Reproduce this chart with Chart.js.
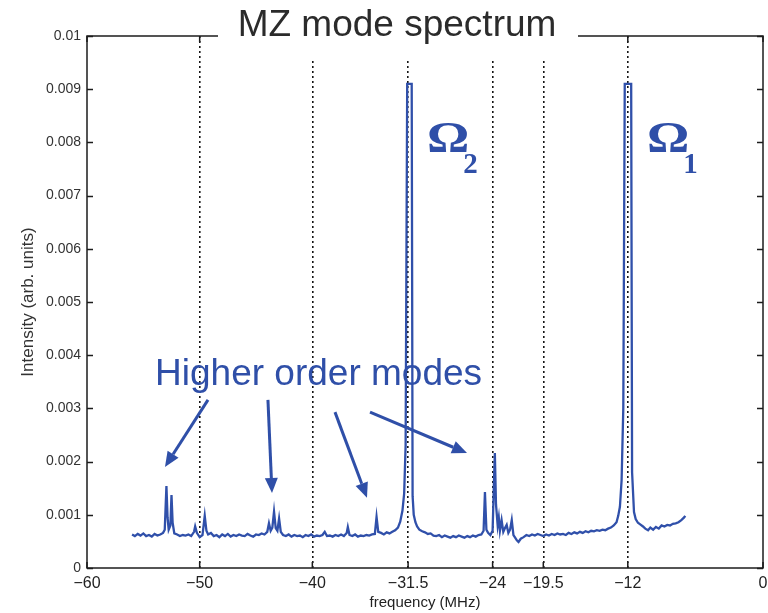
<!DOCTYPE html>
<html><head><meta charset="utf-8">
<script src="https://cdn.jsdelivr.net/npm/chart.js@4"></script>
<style>html,body{margin:0;padding:0;background:#fff}canvas{display:block}</style>
</head><body>
<canvas id="c" width="768" height="613"></canvas>
<script>
const chartTitle = 'MZ mode spectrum';
const xAxisTitle = 'frequency (MHz)';
const yAxisTitle = 'Intensity (arb. units)';
const xTickValues = [-60, -50, -40, -31.5, -24, -19.5, -12, 0];
const xTickLabels = ['\u221260', '\u221250', '\u221240', '\u221231.5', '\u221224', '\u221219.5', '\u221212', '0'];
const yTickLabels = ['0', '0.001', '0.002', '0.003', '0.004', '0.005', '0.006', '0.007', '0.008', '0.009', '0.01'];

const frequency = [
  -56.0, -55.75, -55.5, -55.25, -55.0, -54.75, -54.5, -54.25, -54.0, -53.75, -53.5, -53.25,
  -53.1, -52.95, -52.85, -52.75, -52.6, -52.5, -52.4, -52.25, -52.0, -51.75, -51.5, -51.25,
  -51.0, -50.75, -50.5, -50.4, -50.25, -50.0, -49.75, -49.55, -49.4, -49.25, -49.0, -48.75,
  -48.5, -48.25, -48.0, -47.75, -47.5, -47.25, -47.0, -46.75, -46.5, -46.25, -46.0, -45.75,
  -45.5, -45.25, -45.0, -44.75, -44.5, -44.25, -44.0, -43.85, -43.7, -43.55, -43.4, -43.25,
  -43.1, -42.95, -42.8, -42.6, -42.35, -42.1, -41.85, -41.6, -41.35, -41.1, -40.85, -40.6,
  -40.35, -40.1, -39.85, -39.6, -39.35, -39.1, -38.9, -38.7, -38.45, -38.2, -37.95, -37.7,
  -37.45, -37.2, -36.95, -36.85, -36.7, -36.45, -36.2, -35.95, -35.7, -35.45, -35.2, -34.95,
  -34.7, -34.45, -34.3, -34.15, -33.9, -33.65, -33.4, -33.15, -32.9, -32.65, -32.4, -32.2,
  -32.0, -31.85, -31.72, -31.58, -31.18, -31.1, -31.0, -30.85, -30.7, -30.5, -30.25, -30.0,
  -29.75, -29.5, -29.25, -29.0, -28.75, -28.5, -28.25, -28.0, -27.75, -27.5, -27.25, -27.0,
  -26.75, -26.5, -26.25, -26.0, -25.75, -25.5, -25.25, -25.0, -24.8, -24.68, -24.55, -24.4,
  -24.2, -24.0, -23.88, -23.8, -23.7, -23.55, -23.45, -23.35, -23.2, -23.05, -22.9, -22.75,
  -22.6, -22.45, -22.3, -22.15, -22.0, -21.85, -21.7, -21.5, -21.25, -21.0, -20.75, -20.5,
  -20.25, -20.0, -19.75, -19.5, -19.25, -19.0, -18.75, -18.5, -18.25, -18.0, -17.75, -17.5,
  -17.25, -17.0, -16.75, -16.5, -16.25, -16.0, -15.75, -15.5, -15.25, -15.0, -14.75, -14.5,
  -14.25, -14.0, -13.75, -13.5, -13.25, -13.0, -12.85, -12.7, -12.55, -12.4, -12.27, -11.7,
  -11.62, -11.45, -11.3, -11.1, -10.9, -10.65, -10.45, -10.2, -10.0, -9.75, -9.5, -9.25,
  -9.0, -8.75, -8.5, -8.25, -8.0, -7.75, -7.5, -7.25, -7.0, -6.9
];

const intensity = [
  0.00063, 0.00060, 0.00064, 0.00061, 0.00065, 0.00060, 0.00062, 0.00059, 0.00064, 0.00061, 0.00063, 0.00066,
  0.00072, 0.00154, 0.00095, 0.00072, 0.00080, 0.00137, 0.00085, 0.00065, 0.00063, 0.00060, 0.00062, 0.00061,
  0.00063, 0.00060, 0.00068, 0.00078, 0.00066, 0.00058, 0.00062, 0.00098, 0.00070, 0.00063, 0.00066, 0.00060,
  0.00062, 0.00058, 0.00063, 0.00060, 0.00064, 0.00059, 0.00062, 0.00060, 0.00063, 0.00061, 0.00060, 0.00064,
  0.00061, 0.00059, 0.00063, 0.00062, 0.00065, 0.00063, 0.00068, 0.00084, 0.00070, 0.00076, 0.00106, 0.00075,
  0.00070, 0.00093, 0.00068, 0.00062, 0.00060, 0.00063, 0.00059, 0.00062, 0.00060, 0.00061, 0.00058, 0.00062,
  0.00060, 0.00063, 0.00059, 0.00061, 0.00060, 0.00062, 0.00068, 0.00060, 0.00061, 0.00059, 0.00062, 0.00060,
  0.00063, 0.00060, 0.00066, 0.00077, 0.00062, 0.00060, 0.00063, 0.00059, 0.00061, 0.00060, 0.00062, 0.00061,
  0.00063, 0.00064, 0.00096, 0.00068, 0.00066, 0.00063, 0.00067, 0.00065, 0.00068, 0.00071, 0.00076, 0.00087,
  0.00108, 0.00140, 0.00230, 0.00910, 0.00910, 0.00135, 0.00100, 0.00086, 0.00078, 0.00072, 0.00069, 0.00067,
  0.00064, 0.00065, 0.00061, 0.00060, 0.00062, 0.00058, 0.00061, 0.00059, 0.00057, 0.00060, 0.00058, 0.00061,
  0.00059, 0.00057, 0.00060, 0.00058, 0.00061, 0.00059, 0.00062, 0.00063, 0.00070, 0.00143, 0.00072, 0.00066,
  0.00062, 0.00070, 0.00160, 0.00216, 0.00120, 0.00080, 0.00095, 0.00070, 0.00090, 0.00068, 0.00075, 0.00081,
  0.00066, 0.00072, 0.00090, 0.00062, 0.00057, 0.00052, 0.00049, 0.00055, 0.00058, 0.00062, 0.00060, 0.00063,
  0.00061, 0.00064, 0.00062, 0.00060, 0.00063, 0.00061, 0.00064, 0.00062, 0.00065, 0.00063, 0.00064, 0.00062,
  0.00066, 0.00064, 0.00067, 0.00065, 0.00068, 0.00066, 0.00069, 0.00067, 0.00070, 0.00069, 0.00071, 0.00070,
  0.00072, 0.00071, 0.00074, 0.00076, 0.00080, 0.00086, 0.00098, 0.00115, 0.00165, 0.00300, 0.00910, 0.00910,
  0.00180, 0.00105, 0.00092, 0.00085, 0.00082, 0.00078, 0.00074, 0.00071, 0.00076, 0.00072, 0.00077, 0.00074,
  0.00080, 0.00078, 0.00081, 0.00080, 0.00083, 0.00084, 0.00086, 0.00090, 0.00095, 0.00098
];

// annotation anchors in data coordinates (frequency, intensity)
const modesLabel = { text: 'Higher order modes', f: -53.96, v: 0.00344 };
const peakLabels = [
  { main: '\u03A9', sub: '2', f: -29.82, v: 0.0078 },
  { main: '\u03A9', sub: '1', f: -10.30, v: 0.0078 }
];
const arrowsFrom = [[-49.26, 0.00316], [-43.94, 0.00316], [-37.99, 0.00293], [-34.88, 0.00293]];
const arrowsTo   = [[-53.08, 0.00190], [-43.58, 0.00141], [-35.15, 0.00132], [-26.27, 0.00216]];

const SANS = '"Liberation Sans", Arial, Helvetica, sans-serif';
const SERIF = '"Liberation Serif", "Times New Roman", serif';
const BLUE = '#2f4fa8';

const framePlugin = {
  id: 'frame',
  afterDraw(chart) {
    const { ctx, chartArea: a, scales: { x, y } } = chart;
    ctx.save();
    // box
    ctx.strokeStyle = '#1c1c1c';
    ctx.lineWidth = 1.5;
    ctx.strokeRect(a.left, a.top, a.right - a.left, a.bottom - a.top);
    // inward ticks
    ctx.beginPath();
    y.ticks.forEach(t => {
      const py = Math.round(y.getPixelForValue(t.value)) + 0.5;
      ctx.moveTo(a.left, py); ctx.lineTo(a.left + 6, py);
      ctx.moveTo(a.right, py); ctx.lineTo(a.right - 6, py);
    });
    x.ticks.forEach(t => {
      const px = x.getPixelForValue(t.value);
      ctx.moveTo(px, a.bottom); ctx.lineTo(px, a.bottom - 6);
      ctx.moveTo(px, a.top); ctx.lineTo(px, a.top + 6);
    });
    ctx.stroke();
    // title with white box breaking the frame
    ctx.fillStyle = '#ffffff';
    ctx.fillRect(218, 0, 360, 58);
    ctx.fillStyle = '#2b2b2b';
    ctx.font = '37px ' + SANS;
    ctx.textAlign = 'center';
    ctx.textBaseline = 'alphabetic';
    ctx.fillText(chartTitle, 397, 36);

    // Higher order modes label
    ctx.fillStyle = BLUE;
    ctx.textAlign = 'left';
    ctx.font = '37px ' + SANS;
    ctx.fillText(modesLabel.text, x.getPixelForValue(modesLabel.f), y.getPixelForValue(modesLabel.v));

    // Omega labels
    peakLabels.forEach(p => {
      const px = x.getPixelForValue(p.f), py = y.getPixelForValue(p.v);
      ctx.save();
      ctx.translate(px, py);
      ctx.scale(1.2, 1);
      ctx.font = 'bold 44px ' + SERIF;
      ctx.fillText(p.main, 0, -1);
      const w = ctx.measureText(p.main).width;
      ctx.restore();
      ctx.font = 'bold 29px ' + SERIF;
      ctx.fillText(p.sub, px + w * 1.2 - 6, py + 20);
    });

    // arrows
    ctx.strokeStyle = BLUE;
    ctx.fillStyle = BLUE;
    ctx.lineWidth = 3;
    arrowsFrom.forEach((s, i) => {
      const e = arrowsTo[i];
      const x1 = x.getPixelForValue(s[0]), y1 = y.getPixelForValue(s[1]);
      const x2 = x.getPixelForValue(e[0]), y2 = y.getPixelForValue(e[1]);
      const ang = Math.atan2(y2 - y1, x2 - x1);
      const L = 15, W = 6.5;
      const bx = x2 - L * Math.cos(ang), by = y2 - L * Math.sin(ang);
      ctx.beginPath();
      ctx.moveTo(x1, y1); ctx.lineTo(bx, by);
      ctx.stroke();
      ctx.beginPath();
      ctx.moveTo(x2, y2);
      ctx.lineTo(bx + W * Math.sin(ang), by - W * Math.cos(ang));
      ctx.lineTo(bx - W * Math.sin(ang), by + W * Math.cos(ang));
      ctx.closePath();
      ctx.fill();
    });
    ctx.restore();
  }
};

new Chart(document.getElementById('c'), {
  type: 'line',
  data: {
    datasets: [{
      data: frequency.map((f, i) => ({ x: f, y: intensity[i] })),
      borderColor: '#3050aa',
      borderWidth: 2.3,
      pointRadius: 0,
      tension: 0,
      fill: false
    }]
  },
  options: {
    responsive: false,
    animation: false,
    devicePixelRatio: 1,
    layout: { padding: { left: 0, right: 0, top: 36, bottom: 0 } },
    plugins: { legend: { display: false }, tooltip: { enabled: false }, title: { display: false } },
    scales: {
      x: {
        type: 'linear', min: -60, max: 0,
        afterBuildTicks(s) { s.ticks = xTickValues.map(v => ({ value: v })); },
        afterFit(s) { s.height = 45; s.paddingRight = 5; },
        ticks: {
          autoSkip: false, maxRotation: 0, padding: 6, color: '#222',
          font: { family: SANS, size: 16 },
          callback: (v) => xTickLabels[xTickValues.indexOf(v)]
        },
        grid: {
          drawTicks: false,
          lineWidth: 1.6,
          color: (c) => (c.tick && c.tick.value > -60 && c.tick.value < 0) ? '#151515' : 'rgba(0,0,0,0)'
        },
        border: { display: false, dash: [2, 3] },
        title: { display: true, text: xAxisTitle, color: '#222', font: { family: SANS, size: 15 }, padding: { top: 0, bottom: 1 } }
      },
      y: {
        min: 0, max: 0.01,
        afterFit(s) { s.width = 87; },
        ticks: {
          stepSize: 0.001, padding: 6, color: '#333',
          font: { family: SANS, size: 14 },
          callback: (v) => yTickLabels[Math.round(v / 0.001)]
        },
        grid: { display: false, drawTicks: false },
        border: { display: false },
        title: { display: true, text: yAxisTitle, color: '#333', font: { family: SANS, size: 17 }, padding: { top: 18, bottom: 0 } }
      }
    }
  },
  plugins: [framePlugin]
});
</script>
</body></html>
